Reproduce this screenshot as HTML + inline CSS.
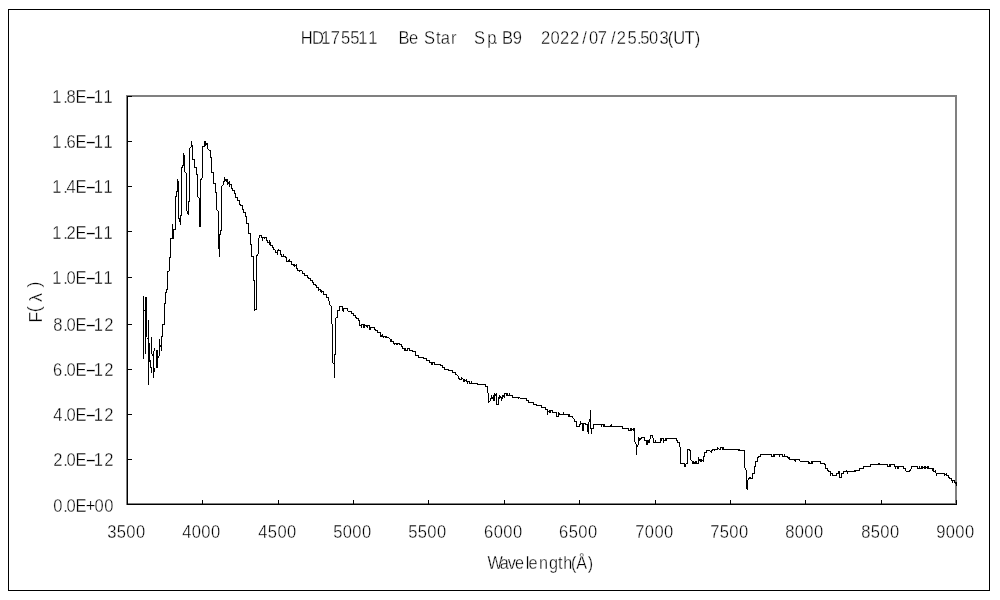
<!DOCTYPE html>
<html lang="en">
<head>
<meta charset="utf-8">
<title>HD175511 Be Star Sp. B9 2022/07/25.503(UT)</title>
<style>
html,body{margin:0;padding:0;background:#fff;}
body{width:1000px;height:600px;overflow:hidden;}
svg{display:block;}
text{font-family:"Liberation Sans","IPAGothic",sans-serif;font-size:18px;fill:#000;stroke:#fff;stroke-width:0.35px;}
</style>
</head>
<body>
<svg width="1000" height="600" viewBox="0 0 1000 600">
<rect x="0" y="0" width="1000" height="600" fill="#fff"/>
<g shape-rendering="crispEdges">
<!-- chart frame -->
<rect x="8.5" y="9.5" width="981" height="581" fill="none" stroke="#000" stroke-width="1"/>
<!-- plot area border -->
<rect x="127" y="96" width="829" height="408" fill="none" stroke="#808080" stroke-width="2"/>
<!-- axes -->
<rect x="127" y="96" width="1" height="409" fill="#000"/>
<rect x="127" y="504" width="830" height="1" fill="#000"/>
<!-- tick marks -->
<rect x="127" y="96" width="5" height="1" fill="#000"/>
<rect x="127" y="141" width="5" height="1" fill="#000"/>
<rect x="127" y="186" width="5" height="1" fill="#000"/>
<rect x="127" y="231" width="5" height="1" fill="#000"/>
<rect x="127" y="277" width="5" height="1" fill="#000"/>
<rect x="127" y="324" width="5" height="1" fill="#000"/>
<rect x="127" y="369" width="5" height="1" fill="#000"/>
<rect x="127" y="414" width="5" height="1" fill="#000"/>
<rect x="127" y="459" width="5" height="1" fill="#000"/>
<rect x="127" y="504" width="5" height="1" fill="#000"/>
<rect x="127" y="500" width="1" height="5" fill="#000"/>
<rect x="202" y="500" width="1" height="5" fill="#000"/>
<rect x="278" y="500" width="1" height="5" fill="#000"/>
<rect x="353" y="500" width="1" height="5" fill="#000"/>
<rect x="428" y="500" width="1" height="5" fill="#000"/>
<rect x="504" y="500" width="1" height="5" fill="#000"/>
<rect x="579" y="500" width="1" height="5" fill="#000"/>
<rect x="655" y="500" width="1" height="5" fill="#000"/>
<rect x="730" y="500" width="1" height="5" fill="#000"/>
<rect x="805" y="500" width="1" height="5" fill="#000"/>
<rect x="881" y="500" width="1" height="5" fill="#000"/>
<rect x="956" y="500" width="1" height="5" fill="#000"/>
<!-- spectrum -->
<path d="M143 296h1v63h-1zM144 310h1v1h-1zM145 297h1v57h-1zM146 297h1v40h-1zM147 338h1v1h-1zM148 320h1v65h-1zM149 343h1v19h-1zM150 360h1v8h-1zM151 337h1v17h-1zM151 367h1v6h-1zM152 354h1v2h-1zM153 351h1v27h-1zM154 348h1v3h-1zM154 368h1v4h-1zM156 350h1v18h-1zM157 350h1v18h-1zM158 356h1v2h-1zM159 339h1v17h-1zM160 345h1v2h-1zM161 336h1v15h-1zM162 324h1v13h-1zM163 324h1v1h-1zM164 303h1v22h-1zM165 292h1v12h-1zM166 289h1v4h-1zM167 271h1v19h-1zM168 271h1v1h-1zM169 257h1v14h-1zM170 238h1v20h-1zM171 238h1v1h-1zM172 224h1v15h-1zM173 229h1v10h-1zM174 229h1v1h-1zM175 196h1v34h-1zM176 191h1v6h-1zM177 179h1v13h-1zM178 181h1v38h-1zM179 218h1v4h-1zM180 215h1v10h-1zM181 167h1v49h-1zM182 165h1v3h-1zM183 153h1v13h-1zM184 155h1v17h-1zM185 172h1v1h-1zM186 173h1v38h-1zM187 211h1v3h-1zM188 201h1v14h-1zM189 148h1v54h-1zM190 147h1v1h-1zM191 141h1v6h-1zM192 145h1v15h-1zM193 159h1v1h-1zM194 159h1v9h-1zM195 167h1v1h-1zM196 167h1v8h-1zM197 174h1v23h-1zM198 197h1v1h-1zM199 198h1v29h-1zM200 179h1v48h-1zM201 178h1v2h-1zM202 146h1v32h-1zM203 146h1v1h-1zM204 141h1v6h-1zM205 141h1v5h-1zM206 143h1v2h-1zM207 143h1v6h-1zM208 149h1v1h-1zM209 150h1v1h-1zM210 150h1v8h-1zM211 157h1v16h-1zM212 172h1v1h-1zM213 172h1v12h-1zM214 183h1v1h-1zM215 183h1v10h-1zM216 192h1v18h-1zM217 210h1v1h-1zM218 211h1v38h-1zM219 234h1v23h-1zM220 230h1v5h-1zM221 186h1v45h-1zM222 185h1v1h-1zM223 181h1v4h-1zM224 177h1v5h-1zM225 179h1v2h-1zM226 179h1v3h-1zM227 179h1v6h-1zM228 182h1v2h-1zM229 181h1v6h-1zM230 184h1v1h-1zM231 184h1v5h-1zM232 188h1v3h-1zM233 190h1v1h-1zM234 190h1v4h-1zM235 193h1v5h-1zM236 197h1v1h-1zM237 197h1v4h-1zM238 200h1v1h-1zM239 200h1v5h-1zM240 204h1v2h-1zM241 205h1v1h-1zM242 205h1v5h-1zM243 209h1v4h-1zM244 212h1v1h-1zM245 212h1v5h-1zM246 216h1v8h-1zM247 223h1v1h-1zM248 223h1v11h-1zM249 233h1v1h-1zM250 233h1v12h-1zM251 244h1v13h-1zM252 256h1v1h-1zM253 256h1v25h-1zM254 280h1v31h-1zM255 309h1v1h-1zM256 255h1v55h-1zM257 254h1v2h-1zM258 238h1v16h-1zM259 235h1v3h-1zM260 235h1v1h-1zM261 235h1v3h-1zM262 237h1v4h-1zM263 237h1v1h-1zM264 237h1v2h-1zM265 237h1v1h-1zM266 237h1v4h-1zM267 240h1v3h-1zM268 242h1v1h-1zM269 240h1v5h-1zM270 242h1v4h-1zM271 245h1v1h-1zM272 245h1v3h-1zM273 247h1v3h-1zM274 249h1v1h-1zM275 250h1v3h-1zM276 252h1v1h-1zM277 250h1v5h-1zM278 249h1v2h-1zM279 250h1v1h-1zM280 250h1v5h-1zM281 254h1v3h-1zM282 256h1v1h-1zM283 254h1v3h-1zM284 256h1v1h-1zM285 256h1v2h-1zM286 257h1v5h-1zM287 261h1v1h-1zM288 260h1v2h-1zM289 259h1v3h-1zM290 261h1v1h-1zM291 261h1v4h-1zM292 264h1v1h-1zM293 264h1v2h-1zM294 264h1v3h-1zM295 265h1v1h-1zM296 264h1v5h-1zM297 268h1v3h-1zM298 270h1v1h-1zM299 270h1v2h-1zM300 270h2v1h-2zM302 271h1v3h-1zM303 273h1v1h-1zM304 273h1v3h-1zM305 275h2v1h-2zM307 275h1v3h-1zM308 277h1v2h-1zM309 278h1v1h-1zM310 278h1v3h-1zM311 280h1v1h-1zM312 280h1v3h-1zM313 282h1v3h-1zM314 284h1v1h-1zM315 284h1v2h-1zM316 285h1v3h-1zM317 287h1v1h-1zM318 287h1v4h-1zM319 289h1v1h-1zM320 289h1v3h-1zM321 290h1v3h-1zM322 291h1v1h-1zM323 291h1v4h-1zM324 294h2v1h-2zM326 294h1v4h-1zM327 297h1v1h-1zM328 297h1v4h-1zM329 301h1v4h-1zM330 305h1v1h-1zM331 306h1v18h-1zM332 324h1v39h-1zM333 363h1v1h-1zM334 354h1v24h-1zM335 318h1v37h-1zM336 317h1v1h-1zM337 310h1v8h-1zM338 310h1v1h-1zM339 306h1v5h-1zM340 306h2v1h-2zM342 306h1v5h-1zM343 308h1v4h-1zM344 308h3v1h-3zM347 308h1v3h-1zM348 311h3v1h-3zM351 311h1v3h-1zM352 313h1v1h-1zM353 313h1v3h-1zM354 315h1v1h-1zM355 315h1v3h-1zM356 317h1v2h-1zM357 318h1v1h-1zM358 318h1v3h-1zM359 320h1v6h-1zM360 325h1v1h-1zM361 324h1v4h-1zM362 324h1v1h-1zM363 324h1v4h-1zM364 324h1v4h-1zM365 325h1v1h-1zM366 325h1v2h-1zM367 325h1v3h-1zM368 325h1v1h-1zM369 325h1v5h-1zM370 327h1v3h-1zM371 327h3v1h-3zM374 327h1v3h-1zM375 329h1v2h-1zM376 330h1v1h-1zM377 330h1v3h-1zM378 332h2v1h-2zM380 332h1v5h-1zM381 335h1v2h-1zM382 334h1v3h-1zM383 336h1v2h-1zM384 336h1v1h-1zM385 336h1v2h-1zM386 336h1v2h-1zM387 337h2v1h-2zM389 338h1v1h-1zM390 339h1v3h-1zM391 339h1v3h-1zM392 341h1v1h-1zM393 341h1v3h-1zM394 343h1v2h-1zM395 343h1v1h-1zM396 343h1v2h-1zM397 343h1v2h-1zM398 343h1v1h-1zM399 343h1v2h-1zM400 344h1v1h-1zM401 344h1v3h-1zM402 346h1v3h-1zM403 348h1v1h-1zM404 348h1v3h-1zM405 348h1v3h-1zM406 350h1v1h-1zM407 348h1v3h-1zM408 348h1v1h-1zM409 348h1v3h-1zM410 350h2v1h-2zM412 350h1v2h-1zM413 351h2v1h-2zM415 351h1v5h-1zM416 355h2v1h-2zM418 355h1v3h-1zM419 357h4v1h-4zM423 357h1v2h-1zM424 358h2v1h-2zM426 358h1v3h-1zM427 360h2v1h-2zM429 360h1v3h-1zM430 362h1v1h-1zM431 362h1v3h-1zM432 362h1v3h-1zM433 362h1v1h-1zM434 362h1v3h-1zM435 364h5v1h-5zM440 364h1v2h-1zM441 365h1v1h-1zM442 365h1v3h-1zM443 367h1v1h-1zM444 367h1v3h-1zM445 369h3v1h-3zM448 369h1v2h-1zM449 370h3v1h-3zM452 370h1v3h-1zM453 372h2v1h-2zM455 372h1v3h-1zM456 374h1v1h-1zM457 375h1v1h-1zM458 376h1v3h-1zM459 378h1v2h-1zM460 379h1v1h-1zM461 377h1v3h-1zM462 378h1v1h-1zM463 379h1v3h-1zM464 379h1v3h-1zM465 380h1v1h-1zM466 379h1v3h-1zM467 381h1v3h-1zM468 381h1v1h-1zM469 381h1v3h-1zM470 383h1v1h-1zM471 381h1v3h-1zM472 383h5v1h-5zM477 383h1v2h-1zM478 384h7v1h-7zM485 384h1v3h-1zM486 386h1v1h-1zM487 386h1v7h-1zM488 393h1v10h-1zM489 401h1v1h-1zM490 398h1v3h-1zM491 395h1v4h-1zM492 397h1v2h-1zM493 395h1v6h-1zM494 393h1v8h-1zM495 394h1v2h-1zM496 393h1v12h-1zM497 404h1v1h-1zM498 397h1v8h-1zM499 395h1v4h-1zM500 396h1v2h-1zM501 397h1v4h-1zM502 395h1v4h-1zM503 395h1v2h-1zM504 393h1v5h-1zM505 393h1v1h-1zM506 393h1v3h-1zM507 393h1v3h-1zM508 395h1v1h-1zM509 393h1v3h-1zM510 395h2v1h-2zM512 395h1v3h-1zM513 397h5v1h-5zM518 397h1v2h-1zM519 397h1v1h-1zM520 398h6v1h-6zM526 398h1v3h-1zM527 400h1v1h-1zM528 400h1v3h-1zM529 402h4v1h-4zM533 402h1v3h-1zM534 404h2v1h-2zM536 404h1v2h-1zM537 405h4v1h-4zM541 405h1v3h-1zM542 407h3v1h-3zM545 407h1v3h-1zM546 409h1v1h-1zM547 409h1v6h-1zM548 411h1v1h-1zM549 410h1v3h-1zM550 410h1v3h-1zM551 410h1v1h-1zM552 410h1v3h-1zM553 412h3v1h-3zM556 412h1v5h-1zM557 416h1v1h-1zM558 412h1v5h-1zM559 413h1v2h-1zM560 414h3v1h-3zM563 412h1v3h-1zM564 414h4v1h-4zM568 414h1v3h-1zM569 414h1v3h-1zM570 416h2v1h-2zM572 416h1v2h-1zM573 418h1v1h-1zM574 419h1v3h-1zM575 421h1v1h-1zM576 421h1v6h-1zM577 426h2v1h-2zM579 424h1v3h-1zM580 421h1v4h-1zM581 423h1v1h-1zM582 423h1v8h-1zM583 423h1v8h-1zM584 423h1v1h-1zM585 423h1v2h-1zM586 424h1v1h-1zM587 424h1v8h-1zM588 422h1v12h-1zM589 419h1v3h-1zM590 410h1v19h-1zM591 428h1v6h-1zM592 428h1v1h-1zM593 424h1v5h-1zM594 424h7v1h-7zM601 424h1v3h-1zM602 424h1v1h-1zM603 424h1v3h-1zM604 424h1v3h-1zM605 426h5v1h-5zM610 425h1v2h-1zM611 424h1v3h-1zM612 426h10v1h-10zM622 426h1v3h-1zM623 428h5v1h-5zM628 428h1v3h-1zM629 430h1v1h-1zM630 428h1v3h-1zM631 428h1v3h-1zM632 429h1v1h-1zM633 428h1v3h-1zM634 428h1v14h-1zM635 442h1v2h-1zM636 444h1v11h-1zM637 445h1v2h-1zM638 437h1v8h-1zM639 438h1v3h-1zM640 438h1v2h-1zM641 437h1v2h-1zM642 437h2v1h-2zM644 437h1v4h-1zM645 440h1v1h-1zM646 440h1v5h-1zM647 440h1v5h-1zM648 440h1v3h-1zM649 439h1v4h-1zM650 435h1v4h-1zM651 435h1v1h-1zM652 435h1v3h-1zM653 438h1v5h-1zM654 442h1v1h-1zM655 440h1v3h-1zM656 442h4v1h-4zM660 438h1v5h-1zM661 438h1v3h-1zM662 438h1v1h-1zM663 438h1v5h-1zM664 440h1v1h-1zM665 438h1v3h-1zM666 438h1v3h-1zM667 438h9v1h-9zM676 438h1v3h-1zM677 440h1v3h-1zM678 442h1v1h-1zM679 442h1v5h-1zM680 447h1v17h-1zM681 463h3v1h-3zM684 463h1v4h-1zM685 464h1v3h-1zM686 463h1v1h-1zM687 449h1v15h-1zM688 449h1v1h-1zM689 449h1v2h-1zM690 450h1v10h-1zM691 460h1v1h-1zM692 461h1v3h-1zM693 461h1v3h-1zM694 462h1v2h-1zM695 461h1v3h-1zM696 461h1v3h-1zM697 463h1v1h-1zM698 457h1v7h-1zM699 459h1v2h-1zM700 459h1v3h-1zM701 459h1v3h-1zM702 460h1v1h-1zM703 456h1v6h-1zM704 452h1v5h-1zM705 452h1v1h-1zM706 450h1v3h-1zM707 450h3v1h-3zM710 451h1v1h-1zM711 450h1v3h-1zM712 449h1v2h-1zM713 449h1v1h-1zM714 449h1v2h-1zM715 449h2v1h-2zM717 447h1v3h-1zM718 448h1v1h-1zM719 449h1v1h-1zM720 447h1v3h-1zM721 447h1v1h-1zM722 447h1v3h-1zM723 447h1v3h-1zM724 449h14v1h-14zM738 449h1v2h-1zM739 449h1v2h-1zM740 450h4v1h-4zM744 450h1v18h-1zM745 468h1v2h-1zM746 470h1v19h-1zM747 480h1v10h-1zM748 478h1v2h-1zM749 477h1v2h-1zM750 477h1v2h-1zM751 478h1v1h-1zM752 473h1v6h-1zM753 473h1v1h-1zM754 466h1v8h-1zM755 461h1v6h-1zM756 461h1v1h-1zM757 457h1v5h-1zM758 456h1v2h-1zM759 456h1v1h-1zM760 454h1v3h-1zM761 454h10v1h-10zM771 454h1v3h-1zM772 456h1v1h-1zM773 454h1v3h-1zM774 454h1v3h-1zM775 454h4v1h-4zM779 454h1v3h-1zM780 454h2v1h-2zM782 454h1v3h-1zM783 456h1v1h-1zM784 454h1v3h-1zM785 456h2v1h-2zM787 456h1v2h-1zM788 457h1v2h-1zM789 457h1v3h-1zM790 459h4v1h-4zM794 459h1v2h-1zM795 459h1v3h-1zM796 459h3v1h-3zM799 459h1v2h-1zM800 461h8v1h-8zM808 461h1v3h-1zM809 462h1v2h-1zM810 463h1v1h-1zM811 461h1v3h-1zM812 461h1v3h-1zM813 461h7v1h-7zM820 461h1v3h-1zM821 463h3v1h-3zM824 463h1v2h-1zM825 464h1v5h-1zM826 468h1v1h-1zM827 468h1v3h-1zM828 470h1v2h-1zM829 471h1v1h-1zM830 471h1v5h-1zM831 473h1v1h-1zM832 473h1v3h-1zM833 475h3v1h-3zM836 473h1v3h-1zM837 473h1v1h-1zM838 471h1v3h-1zM839 471h1v7h-1zM840 477h1v1h-1zM841 473h1v5h-1zM842 473h1v1h-1zM843 471h1v3h-1zM844 471h2v1h-2zM846 470h1v2h-1zM847 471h1v3h-1zM848 471h6v1h-6zM854 470h1v2h-1zM855 470h1v2h-1zM856 470h3v1h-3zM859 468h1v3h-1zM860 468h3v1h-3zM863 466h1v3h-1zM864 466h6v1h-6zM870 464h1v3h-1zM871 464h7v1h-7zM878 463h1v2h-1zM879 463h1v2h-1zM880 464h7v1h-7zM887 464h1v3h-1zM888 466h1v1h-1zM889 464h1v3h-1zM890 464h1v3h-1zM891 464h3v1h-3zM894 464h1v3h-1zM895 466h1v3h-1zM896 466h1v1h-1zM897 466h1v3h-1zM898 466h1v3h-1zM899 466h4v1h-4zM903 466h1v3h-1zM904 468h1v1h-1zM905 468h1v3h-1zM906 471h3v1h-3zM909 470h1v2h-1zM910 469h1v2h-1zM911 466h1v3h-1zM912 466h5v1h-5zM917 466h1v3h-1zM918 468h1v1h-1zM919 466h1v3h-1zM920 468h1v1h-1zM921 466h1v3h-1zM922 466h1v3h-1zM923 467h1v1h-1zM924 466h1v3h-1zM925 466h1v3h-1zM926 467h1v1h-1zM927 466h1v3h-1zM928 466h1v3h-1zM929 468h3v1h-3zM932 468h1v3h-1zM933 468h1v4h-1zM934 471h1v1h-1zM935 470h1v3h-1zM936 473h1v3h-1zM937 473h7v1h-7zM944 473h1v3h-1zM945 474h1v1h-1zM946 473h1v3h-1zM947 475h1v1h-1zM948 475h1v3h-1zM949 477h1v2h-1zM950 478h1v1h-1zM951 478h1v3h-1zM952 480h1v3h-1zM953 480h1v1h-1zM954 480h1v3h-1zM955 482h1v2h-1zM956 482h1v4h-1z" fill="#000"/>
</g>
<!-- chart title -->
<text transform="translate(0,44) scale(0.92,1)" x="326.9 339.1 349.1 359.6 370.7 380.7 389.4 400.2 413.2 433.1 444.7 457.7 461.0 474.0 479.2 490.3 499.3 515.3 529.6 536.3 544.3 545.7 557.4 570.4 588.0 598.5 608.8 619.5 632.8 640.3 649.8 664.1 670.3 682.1 692.5 696.0 705.5 716.8 725.8 731.9 744.0 755.3" y="0">HD175511 Be Star Sp. B9 2022/07/25.503(UT)</text>
<!-- value axis labels -->
<g>
<text transform="translate(0,103) scale(0.92,1)" x="56.9 68.8 72.3 82.2 92.3 101.9 112.4" y="0">1.8E<tspan textLength="12.6" lengthAdjust="spacingAndGlyphs">-</tspan>11</text>
<text transform="translate(0,148) scale(0.92,1)" x="56.9 68.8 72.2 82.2 92.3 101.9 112.4" y="0">1.6E<tspan textLength="12.6" lengthAdjust="spacingAndGlyphs">-</tspan>11</text>
<text transform="translate(0,193) scale(0.92,1)" x="56.9 68.8 72.3 82.2 92.3 101.9 112.4" y="0">1.4E<tspan textLength="12.6" lengthAdjust="spacingAndGlyphs">-</tspan>11</text>
<text transform="translate(0,239) scale(0.92,1)" x="56.9 68.8 72.2 82.2 92.3 101.9 112.4" y="0">1.2E<tspan textLength="12.6" lengthAdjust="spacingAndGlyphs">-</tspan>11</text>
<text transform="translate(0,284) scale(0.92,1)" x="56.9 68.8 72.2 82.2 92.3 101.9 112.4" y="0">1.0E<tspan textLength="12.6" lengthAdjust="spacingAndGlyphs">-</tspan>11</text>
<text transform="translate(0,331) scale(0.92,1)" x="57.8 68.8 72.2 82.2 92.3 101.9 113.3" y="0">8.0E<tspan textLength="12.6" lengthAdjust="spacingAndGlyphs">-</tspan>12</text>
<text transform="translate(0,376) scale(0.92,1)" x="57.7 68.8 72.2 82.2 92.3 101.9 113.3" y="0">6.0E<tspan textLength="12.6" lengthAdjust="spacingAndGlyphs">-</tspan>12</text>
<text transform="translate(0,421) scale(0.92,1)" x="57.9 68.8 72.2 82.2 92.3 101.9 113.3" y="0">4.0E<tspan textLength="12.6" lengthAdjust="spacingAndGlyphs">-</tspan>12</text>
<text transform="translate(0,466) scale(0.92,1)" x="57.8 68.8 72.2 82.2 92.3 101.9 113.3" y="0">2.0E<tspan textLength="12.6" lengthAdjust="spacingAndGlyphs">-</tspan>12</text>
<text transform="translate(0,512) scale(0.92,1)" x="57.8 68.8 72.2 82.2 93.3 102.8 113.3" y="0">0.0E+00</text>
</g>
<!-- category axis labels -->
<g>
<text transform="translate(0,538) scale(0.92,1)" x="116.6 127.0 137.3 147.8" y="0">3500</text>
<text transform="translate(0,538) scale(0.92,1)" x="198.1 208.4 218.9 229.3" y="0">4000</text>
<text transform="translate(0,538) scale(0.92,1)" x="280.7 291.1 301.5 311.9" y="0">4500</text>
<text transform="translate(0,538) scale(0.92,1)" x="362.2 372.6 383.0 393.4" y="0">5000</text>
<text transform="translate(0,538) scale(0.92,1)" x="443.7 454.1 464.5 474.9" y="0">5500</text>
<text transform="translate(0,538) scale(0.92,1)" x="526.2 536.7 547.1 557.6" y="0">6000</text>
<text transform="translate(0,538) scale(0.92,1)" x="607.7 618.3 628.6 639.1" y="0">6500</text>
<text transform="translate(0,538) scale(0.92,1)" x="690.4 700.8 711.3 721.7" y="0">7000</text>
<text transform="translate(0,538) scale(0.92,1)" x="771.9 782.4 792.8 803.2" y="0">7500</text>
<text transform="translate(0,538) scale(0.92,1)" x="853.5 863.9 874.3 884.7" y="0">8000</text>
<text transform="translate(0,538) scale(0.92,1)" x="936.1 946.5 956.9 967.3" y="0">8500</text>
<text transform="translate(0,538) scale(0.92,1)" x="1017.6 1028.0 1038.4 1048.9" y="0">9000</text>
</g>
<!-- axis titles -->
<text transform="translate(0,569) scale(0.9,1)" x="541.6 555.2 564.1 572.2 584.2 587.3 598.8 610.0 620.0 625.7 634.5 640.3 653.1" y="0">Wavelength(Å)</text>
<text transform="translate(42,321.5) rotate(-90)" x="-1.2 9.3 19.5 34" y="0 -2.3 0 -2.3">F(λ)</text>
</svg>
</body>
</html>
